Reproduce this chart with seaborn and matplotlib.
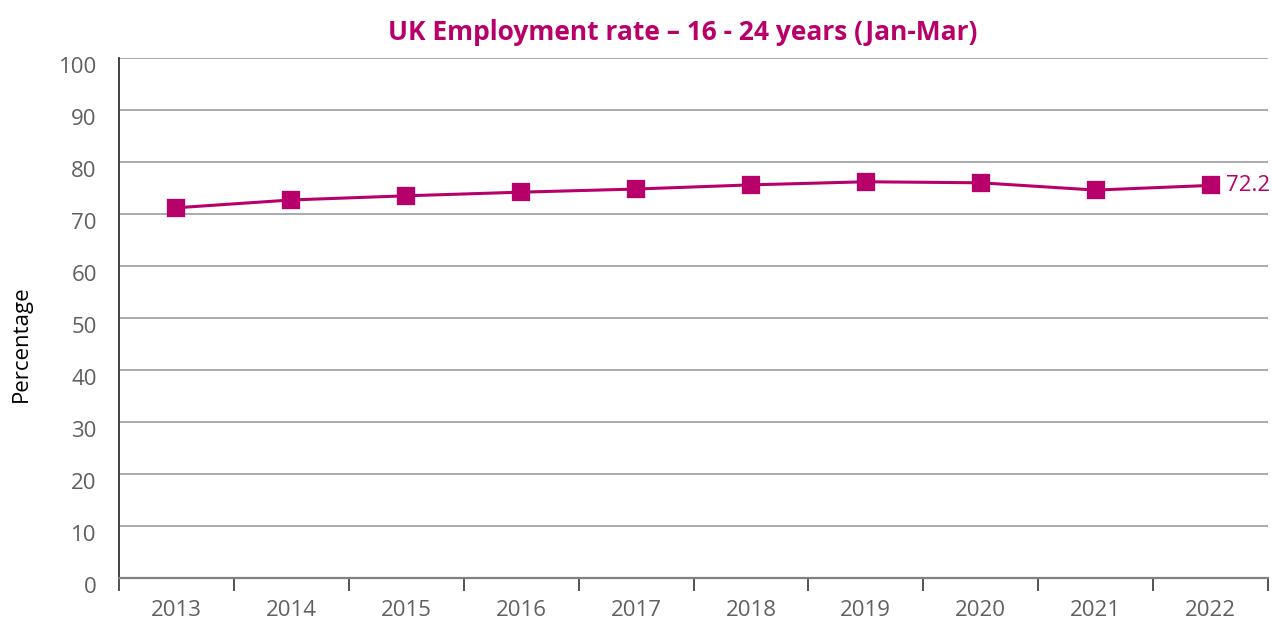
import numpy as np
import matplotlib
matplotlib.use("Agg")
import matplotlib.pyplot as plt
import matplotlib.transforms as mtransforms
import seaborn as sns
from matplotlib.ticker import FixedLocator

YEARS = ["2013", "2014", "2015", "2016", "2017", "2018", "2019", "2020", "2021", "2022"]
RATE = [71.2, 72.7, 73.5, 74.2, 74.8, 75.6, 76.2, 76.0, 74.6, 75.5]
LAST_LABEL = "72.2"

MAGENTA = "#B8006A"
TICK_GREY = "#606060"

sns.set_theme(style="white")
plt.rcParams['font.family'] = ['Open Sans', 'DejaVu Sans']

fig = plt.figure(figsize=(12.72, 6.19), dpi=100)
ax = fig.add_axes([119 / 1272, 1 - 578 / 619, (1268 - 119) / 1272, (578 - 58) / 619])

sns.pointplot(x=YEARS, y=RATE, color=MAGENTA, markers="s", linewidth=2.2,
              markersize=12, ax=ax, zorder=3)

ax.set_ylim(0, 100)
ax.set_xlim(-0.5, len(YEARS) - 0.5)
ax.set_yticks(range(0, 101, 10))
ax.yaxis.grid(True, color="#9a9ca0", linewidth=1.2)
ax.set_axisbelow(True)

ax.tick_params(axis="y", length=0, labelsize=16, labelcolor=TICK_GREY, pad=16)
ax.tick_params(axis="x", which="major", bottom=True, length=0, labelsize=16,
               labelcolor=TICK_GREY, pad=16)
ax.xaxis.set_minor_locator(FixedLocator(np.arange(-0.5, len(YEARS), 1.0)))
ax.tick_params(axis="x", which="minor", bottom=True, length=9, width=1.3,
               color="#444444", direction="out")

# y labels sit a little below their gridlines in the original
shift = mtransforms.ScaledTranslation(0, -7 / 100, fig.dpi_scale_trans)
for lbl in ax.get_yticklabels():
    lbl.set_transform(lbl.get_transform() + shift)

for side in ["top", "right"]:
    ax.spines[side].set_visible(False)
ax.spines["left"].set_color("#333333")
ax.spines["left"].set_linewidth(1.3)
ax.spines["bottom"].set_color("#808080")
ax.spines["bottom"].set_linewidth(1.6)

ax.set_xlabel("")
ax.set_ylabel("Percentage", fontsize=16, color="black")
ax.yaxis.set_label_coords(-0.076, 0.45)

ax.annotate(LAST_LABEL, xy=(len(YEARS) - 1, RATE[-1]), xytext=(11, 0),
            textcoords="offset points", va="center", ha="left",
            fontsize=16, color=MAGENTA)

fig.suptitle("UK Employment rate \u2013 16 - 24 years (Jan-Mar)", x=0.537, y=0.97,
             fontsize=19, fontweight="bold", color=MAGENTA)

fig.savefig("out.png", dpi=100)
